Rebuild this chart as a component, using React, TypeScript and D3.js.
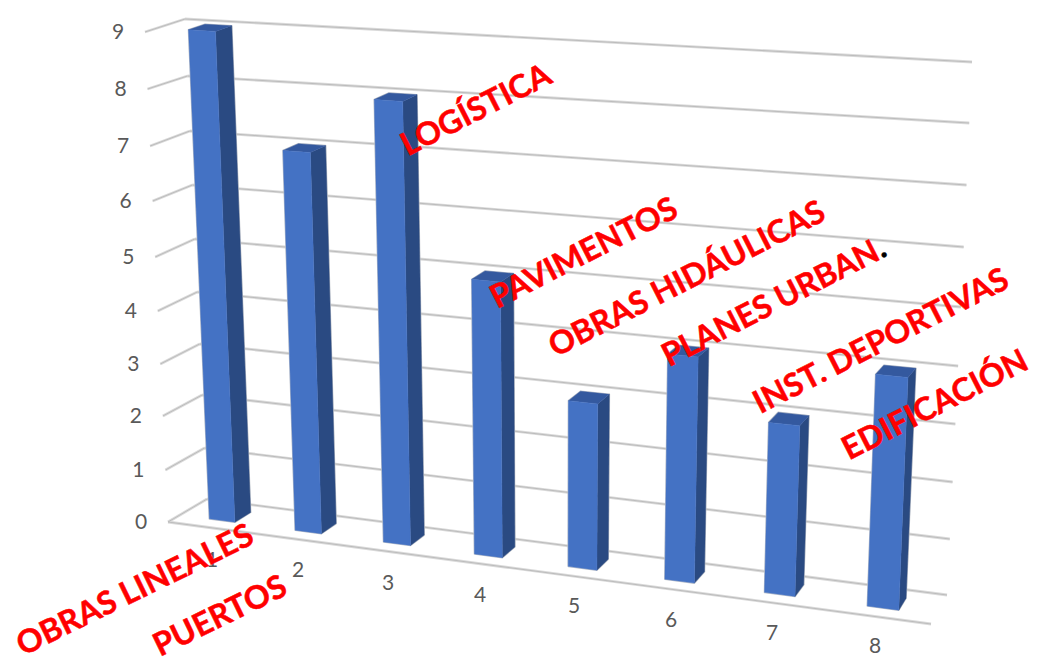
import React from "react";
import * as d3 from "d3";

const categories = ["1", "2", "3", "4", "5", "6", "7", "8"];
const values = [9, 7, 8, 5, 3, 4, 3, 4];
const valueTicks = [0, 1, 2, 3, 4, 5, 6, 7, 8, 9];
const sectorNames = [
  "OBRAS LINEALES",
  "PUERTOS",
  "LOGÍSTICA",
  "PAVIMENTOS",
  "OBRAS HIDÁULICAS",
  "PLANES URBAN",
  "INST. DEPORTIVAS",
  "EDIFICACIÓN",
];

const W = 1037;
const H = 662;

// Screen position of the plot box's four vertical edges, one entry per tick level.
const leftFrontY = [522, 470, 416, 364, 311, 257, 201, 146, 89, 32];
const leftBackY = [499, 448, 395, 344, 292, 239, 185, 131, 76, 19];
const rightBackY = [595, 539, 482, 424, 366, 307, 247, 185, 123, 62];
const rightFrontY = [624, 566, 507, 449, 388, 330, 270, 208, 146, 80];

const edge = (ys: number[], x0: number, x1: number) => ({
  x: d3.scaleLinear().domain([0, 9]).range([x0, x1]),
  y: d3.scaleLinear().domain(valueTicks).range(ys),
});
const LF = edge(leftFrontY, 168, 145);
const LB = edge(leftBackY, 207, 185);
const RB = edge(rightBackY, 947, 972);
const RF = edge(rightFrontY, 931, 953);

type P = [number, number];

// Projective corner weights, taken from the floor quad so verticals stay straight.
const floorG = (() => {
  const a: P = [168, leftFrontY[0]];
  const b: P = [931, rightFrontY[0]];
  const c: P = [947, rightBackY[0]];
  const d: P = [207, leftBackY[0]];
  const dx1 = b[0] - c[0];
  const dx2 = d[0] - c[0];
  const sx = a[0] - b[0] + c[0] - d[0];
  const dy1 = b[1] - c[1];
  const dy2 = d[1] - c[1];
  const sy = a[1] - b[1] + c[1] - d[1];
  const den = dx1 * dy2 - dx2 * dy1;
  return {
    g: (sx * dy2 - dx2 * sy) / den,
    h: (dx1 * sy - sx * dy1) / den,
  };
})();

// Extra foreshortening along the category axis: bars widen toward the viewer's right.
const U_WARP = 0.02;

// u: position along the category axis, depth: front to back, v: axis value.
function project(uRaw: number, depth: number, v: number): P {
  const { g, h } = floorG;
  const u = uRaw - U_WARP * uRaw * (1 - uRaw);
  const wa = (1 - u) * (1 - depth);
  const wb = u * (1 - depth) * (1 + g);
  const wc = u * depth * (1 + g + h);
  const wd = (1 - u) * depth * (1 + h);
  const q = wa + wb + wc + wd;
  const mix = (f: (e: typeof LF) => number) =>
    (wa * f(LF) + wb * f(RF) + wc * f(RB) + wd * f(LB)) / q;
  return [mix((e) => e.x(v)), mix((e) => e.y(v))];
}

const uScale = d3.scaleBand<string>().domain(categories).range([0, 1]).paddingInner(0.7).paddingOuter(0.35);
const DEPTH_FRONT = 0.3;
const DEPTH_BACK = 0.72;

const quadPath = (pts: P[]) => d3.line()(pts)! + "Z";

const line = (a: P, b: P) => d3.line()([a, b])!;

// Where each sector name sits: centre point and rotation.
const sectorPlacement: { cx: number; cy: number; rot: number }[] = [
  { cx: 136, cy: 592, rot: -26 },
  { cx: 221, cy: 618, rot: -26 },
  { cx: 477, cy: 112, rot: -27 },
  { cx: 585, cy: 255, rot: -27 },
  { cx: 688, cy: 281, rot: -27 },
  { cx: 775, cy: 304, rot: -27 },
  { cx: 882, cy: 343, rot: -27 },
  { cx: 936, cy: 407, rot: -27 },
];

const tickLabelPos = [
  [212, 560], [298, 570], [388, 583], [480, 595], [574, 606], [671, 620], [772, 633], [875, 646],
];

export default function App() {
  const fontFamily = "Lato, 'Open Sans', sans-serif";
  const gridPaths = [
    ...valueTicks.flatMap((v) => [
      line(project(0, 0, v), project(0, 1, v)),
      line(project(0, 1, v), project(1, 1, v)),
    ]),
    line(project(0, 0, 0), project(1, 0, 0)),
  ];
  return (
    <svg
      width={W}
      height={H}
      viewBox={`0 0 ${W} ${H}`}
      style={{ position: "absolute", left: 0, top: 0, background: "#fff", fontFamily }}
    >
      <g fill="none" stroke="#dadada" strokeWidth={2.8}>
        {gridPaths.map((d, i) => <path key={i} d={d} />)}
      </g>
      <g fill="none" stroke="#bcbcbc" strokeWidth={1}>
        {gridPaths.map((d, i) => <path key={i} d={d} />)}
      </g>

      {values.map((val, i) => {
        const u0 = uScale(categories[i])!;
        const u1 = u0 + uScale.bandwidth();
        const fbl = project(u0, DEPTH_FRONT, 0);
        const fbr = project(u1, DEPTH_FRONT, 0);
        const bbr = project(u1, DEPTH_BACK, 0);
        const ftl = project(u0, DEPTH_FRONT, val);
        const ftr = project(u1, DEPTH_FRONT, val);
        const btr = project(u1, DEPTH_BACK, val);
        const btl = project(u0, DEPTH_BACK, val);
        const faces: { pts: P[]; fill: string }[] = [
          { pts: [fbr, bbr, btr, ftr], fill: "#2a4a82" },
          { pts: [ftl, ftr, btr, btl], fill: "#34599f" },
          { pts: [fbl, fbr, ftr, ftl], fill: "#4472c4" },
        ];
        return (
          <g key={i} strokeLinejoin="round">
            {/* soft grey edge round the whole column */}
            <path
              d={quadPath([fbl, fbr, bbr, btr, btl, ftl])}
              fill="none"
              stroke="#c2c6cc"
              strokeWidth={1.6}
            />
            {faces.map((f, j) => (
              <path key={j} d={quadPath(f.pts)} fill={f.fill} stroke={f.fill} strokeWidth={0.4} />
            ))}
          </g>
        );
      })}

      <g fill="#595959" fontSize={21} textAnchor="middle">
        {valueTicks.map((v) => (
          <text key={v} x={LF.x(v) - 27} y={leftFrontY[v] + 7}>{v}</text>
        ))}
        {categories.map((c, i) => (
          <text key={c} x={tickLabelPos[i][0]} y={tickLabelPos[i][1] + 7}>{c}</text>
        ))}
      </g>

      <g fill="#ff0000" fontSize={32} fontWeight={700} textAnchor="middle">
        {sectorNames.map((name, i) => {
          const p = sectorPlacement[i];
          return (
            <text
              key={name}
              transform={`translate(${p.cx},${p.cy}) rotate(${p.rot})`}
              dominantBaseline="middle"
              stroke="#ff0000"
              strokeWidth={0.5}
            >
              {name}
              {name === "PLANES URBAN" ? <tspan fill="#000" stroke="#000">.</tspan> : null}
            </text>
          );
        })}
      </g>
    </svg>
  );
}
